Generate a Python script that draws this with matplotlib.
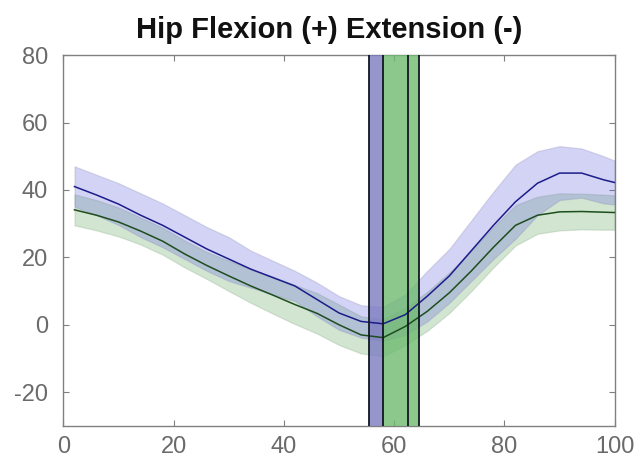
import numpy as np
import matplotlib
matplotlib.use("Agg")
import matplotlib.pyplot as plt

# % do ciclo da marcha
x = [2, 6, 10, 14, 18, 22, 26, 30, 34, 38, 42, 46, 50, 54, 58, 62, 66,
     70, 74, 78, 82, 86, 90, 94, 98, 100]

# grupo azul: media e desvio padrao (graus)
blue_mean = [41.0, 38.5, 35.8, 32.5, 29.5, 26.0, 22.5, 19.5, 16.5, 14.0, 11.5,
             7.5, 3.5, 1.0, 0.3, 3.0, 8.5, 14.5, 22.0, 29.5, 36.5, 42.0, 45.0,
             45.0, 43.0, 42.2]
blue_sd = [6.0, 6.0, 6.2, 6.5, 6.5, 6.5, 6.5, 6.5, 5.5, 5.0, 4.5, 5.0, 5.0,
           4.8, 5.0, 6.0, 7.5, 8.0, 9.0, 10.0, 11.0, 9.5, 8.0, 7.3, 7.0, 6.5]

# grupo verde
green_mean = [34.1, 32.5, 30.5, 27.8, 24.8, 21.0, 17.6, 14.5, 11.5, 8.8, 6.0,
              3.4, 0.0, -3.0, -3.8, -0.5, 4.0, 9.5, 16.0, 23.0, 29.5, 32.5,
              33.5, 33.6, 33.4, 33.3]
green_sd = [4.6, 4.5, 4.3, 4.0, 4.0, 4.0, 4.0, 4.5, 5.0, 5.5, 5.8, 6.0, 6.0,
            5.5, 5.5, 5.5, 5.8, 6.0, 6.0, 6.0, 6.0, 5.5, 5.5, 5.3, 5.2, 5.1]

# inicio do balanco (toe-off) de cada grupo
blue_toeoff = [55.5, 58.0]
green_toeoff = [58.0, 64.5]
toeoff_lines = [55.5, 58.0, 62.5, 64.5]

x = np.array(x)
bm, bs = np.array(blue_mean), np.array(blue_sd)
gm, gs = np.array(green_mean), np.array(green_sd)

plt.rcParams["font.family"] = ["Liberation Sans", "DejaVu Sans"]
plt.rcParams["axes.unicode_minus"] = False

fig = plt.figure(figsize=(6.41, 4.59), dpi=100)
ax = fig.add_axes([0.099, 0.072, 0.860, 0.808])

ax.fill_between(x, gm - gs, gm + gs, facecolor="#4a9a4a", alpha=0.25,
                edgecolor="#7a9e7a", lw=0.9, zorder=1)
ax.fill_between(x, bm - bs, bm + bs, facecolor="#6464dc", alpha=0.28,
                edgecolor="#8888b8", lw=0.9, zorder=2)

ax.axvspan(*blue_toeoff, facecolor="#7c7cc1", alpha=0.8, lw=0, zorder=3)
ax.axvspan(*green_toeoff, facecolor="#6fba6f", alpha=0.8, lw=0, zorder=3)
for v in toeoff_lines:
    ax.axvline(v, color="#101820", lw=1.3, zorder=5)

ax.plot(x, bm, color="#1c1c8a", lw=1.1, zorder=4)
ax.plot(x, gm, color="#1e4d1e", lw=1.1, zorder=4)

ax.set_xlim(0, 100)
ax.set_ylim(-30, 80)
ax.set_xticks([0, 20, 40, 60, 80, 100])
ax.set_yticks([-20, 0, 20, 40, 60, 80])
ax.tick_params(direction="in", length=4, width=0.8, color="#808080",
               labelcolor="#6a6a6a", labelsize=17, top=True, right=True)
ax.tick_params(axis="x", pad=7)
ax.tick_params(axis="y", pad=11)
for s in ax.spines.values():
    s.set_color("#808080")
    s.set_linewidth(1.0)

fig.text(0.513, 0.918, "Hip Flexion (+) Extension (-)", ha="center",
         va="baseline", fontsize=21, fontweight="bold", color="#111111")

fig.savefig("out.png", dpi=100)
